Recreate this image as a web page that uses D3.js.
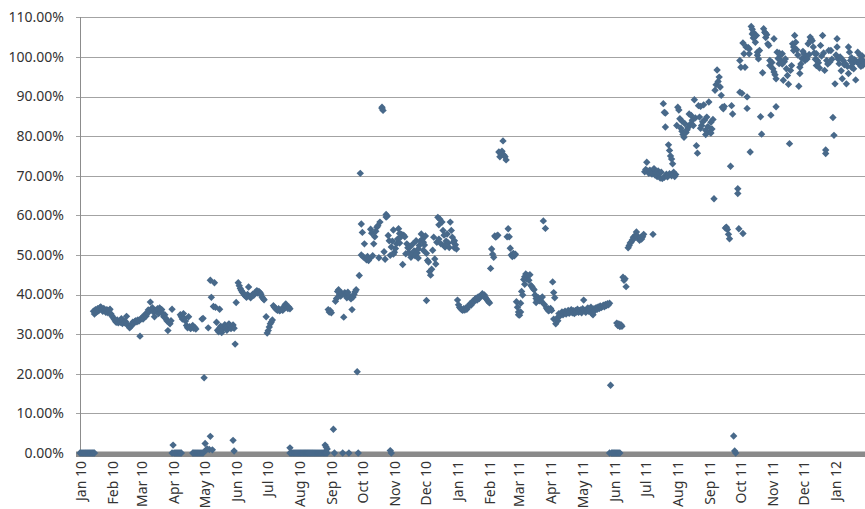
<!DOCTYPE html>
<html>
<head>
<meta charset="utf-8">
<script src="https://cdn.jsdelivr.net/npm/d3@7"></script>
<style>
  body { margin: 0; background: #fff; }
  text { font-family: "Segoe UI", "Noto Sans", sans-serif; fill: #333; }
</style>
</head>
<body>
<div id="chart"></div>
<script>
// Daily values (percent). Each run is [day offset from 1 Jan 2010, [values for consecutive days]]
const runs2010a = [
  [0, [0,0,0,0,0,0,0,0,0,0,0,0,0,0,0]],
  [13, [35.8,35.1,36.2,35.6,36.4,35.9,36.6,36.9,36.3,35.8,36.5,36.1,35.5,36.2,35.4,35.9,36.3,35.1,34.6,34.2]],
  [33, [33.8,33.4,33.0,33.6,32.9,33.3,33.0,33.9,32.7,33.4,32.9,33.2,34.5,32.4,32.0,31.6,31.9,32.5]],
  [51, [33.0,32.7,33.2,33.4,33.1,33.6,33.3,29.5,33.9,34.2,33.8,34.5,35.0,34.6,35.4,36.1]],
  [67, [35.7,38.1,36.3,36.7,35.6,34.4,36.0,35.8,36.4,35.2,36.6,35.9,36.2,35.1,34.4,34.9,34.0,33.4,30.9,33.0,32.6,33.4,36.3]],
  [89, [0,2.0,0,0,0,0,0,0,0,0]],
  [97, [34.9,34.4,33.8,35.2,34.0,33.3,32.2,31.6,34.4,31.9,31.4,31.8,32.2,31.5,31.7,31.3]],
  [109, [0,0,0,0,0,0,0,0,0,0,0]],
  [118, [33.8,34.0,19.0,2.4,0.8,1.0,31.6,0.9,43.6,39.3,0.8,37.0,43.0,36.8,33.0]],
  [126, [4.2]],
  [133, [31.0,30.6,31.5,32.0,30.4,31.2,31.8,32.4,31.5,31.0,32.0,32.6,32.2,31.4,31.9,32.3,31.5]],
  [135, [36.3]],
  [148, [3.2,0.5,27.5,38.0]],
  [153, [43.0,42.2,41.5,41.0,40.6,40.3,39.9,39.6,39.3,40.0,41.9,39.5,39.2,39.7,40.1,39.8,40.3,40.6,41.0,40.4,40.8,40.5,40.1,39.4,39.0,38.7]],
  [180, [34.4,30.3,30.9,31.8,32.6,33.1,33.6]]
];

const runs2010b = [
  [187, [37.2,36.8,36.5,36.2,36.0,36.4,35.9,36.1,36.3,36.0,36.6,37.3,37.6,37.0,36.5,36.8,36.4]],
  [203, [1.3]],
  [203, [0,0,0,0,0,0,0,0,0,0,0,0,0,0,0,0,0,0,0,0,0,0,0,0,0,0,0,0,0,0,0,0,0,0,0,0,0]],
  [237, [2.0,1.5,1.0]],
  [240, [36.2,35.6,35.9,35.4]],
  [245, [6.0,0]],
  [247, [38.3,39.0,40.8,41.2,40.0,39.6,40.4,0,34.3,40.5,39.8,39.2,40.6,0,39.5,38.9,36.2,39.4,40.1,40.7,41.2,20.5,0,44.8,70.6]],
  [272, [50.0,55.7,49.5,52.8,49.2,48.8,49.6,48.6,49.1,56.5,55.5,49.8,52.8,54.6,56.0,57.0,57.4,49.3,58.3]],
  [292, [87.3,86.5,50.8,48.9,60.2,59.8,54.9,53.6,49.9,52.0,53.5,56.3,50.7,51.6,52.8,54.0,56.6,55.4,54.5,55.2,
         47.6,55.0,54.6,50.3,52.8,51.8,50.6,52.0,49.4,50.2,52.8,51.0,49.8,53.6,50.5,51.5,52.4,53.5,55.3,54.0,
         53.2,52.5,54.8,50.4,48.6,48.2,45.8,44.9,46.4,51.2,54.5,49.0,47.7,53.2,59.5,54.0,59.0,52.8,58.3,56.2,
         55.0,52.0,53.5,55.3,53.0,51.9,58.3,56.2,54.5,53.2,51.8,52.6,51.5]],
  [272, [57.8]], [292, [87.0]], [296, [59.6]], [300, [0.6,0]], [303, [50.2]], [309, [53.0]], [327, [49.2]],
  [332, [51.2]], [335, [38.5]], [347, [57.6]], [352, [52.4]], [362, [53.6]]
];

const runs2011a = [
  [365, [38.6,37.4,36.8,36.5,36.2,36.0,36.4,36.1,36.6,36.3,36.9,37.2,37.6,37.3,38.0,38.4,38.2,38.8,39.1,38.6,
         39.4,39.0,39.6,39.8,40.2,39.6,39.9,39.3,38.9,38.5,38.2,37.9]],
  [397, [46.6,51.5,50.2,49.4,54.8,54.5,54.8,55.0,76.0,74.8,75.5,76.2,78.8,75.2,74.8,74.0,54.6,56.6,54.6,51.7,
         50.0,49.6,50.4,49.8,50.2]],
  [422, [38.2,36.8,35.6,34.8,35.6,40.8,39.9,43.8,44.5,45.2,44.0,44.8,43.6,45.0,42.3,42.0,41.5,41.2,39.9,39.0,
         38.5,39.2,38.4,38.9,38.3,39.4,58.6,37.5,56.7,36.6,36.2,36.4,36.1,36.5,36.0,43.2,33.8,39.2,32.6,34.0,
         33.4,35.2,34.6,35.0,35.6,34.9,35.4,35.8,35.1,35.5,36.0,35.3,35.7,36.2,35.4,35.9,35.2,36.0,35.6,36.3,
         35.5,35.9]],
  [424, [34.9]], [426, [37.8]], [430, [42.6]], [441, [38.0]], [453, [35.9]], [458, [40.5]],
  [484, [36.1,35.4,36.4,38.6,36.0,35.5,36.3,36.6,35.8,36.2,36.8,35.2,34.9,36.4,36.0,36.7,36.3,36.9,36.5,37.1,
         36.7,37.0,37.3,36.9,37.5,37.2,37.7,37.4,37.8]],
  [512, [0,17.1,0,0,0,0,0,0,0,0,0]],
  [519, [32.8,32.2,32.6,31.9,32.4,32.0,44.4,43.6,44.0,42.0]],
  [530, [51.8,52.4,53.0,53.3,53.8,54.5,54.2,55.0,55.8,54.8,54.2,53.7,54.4,54.0,54.6,55.2]]
];

const runs2011b = [
  [546, [71.0,71.6,73.4,71.2,70.6,71.4,71.0,70.4,55.2,71.8,70.2,70.8,69.8,71.2,70.6,69.4,70.9,69.3,88.2,69.6,
         85.8,70.4,69.7,77.8,76.4,75.0,74.2,73.0,70.9,69.8,70.3,82.7,87.3,86.6,84.4,82.0,81.2,80.4,79.7,83.1,
         80.9,81.6,82.2,85.6,83.0,85.2,84.0,82.7,89.2,84.6,77.6,75.7,87.7,84.8,87.5,82.7,83.6,87.9,84.1,81.5,
         84.8,82.4,88.6,81.0,83.5,81.8,84.2,64.2,91.6,93.0,96.7,93.8,94.9,92.4,90.3,87.3,86.9,87.5,56.8,57.0,
         56.4,55.2,54.1,72.4,87.7,85.6,4.3,0.5,0]],
  [565, [86.0]], [566, [82.3]], [570, [70.5]], [572, [70.0]], [582, [83.8]], [600, [82.0]],
  [605, [80.4]], [610, [80.8]],
  [636, [66.7,56.6,91.1,97.4,90.8,103.5,100.8,97.4,102.5,89.9,102.4,100.8,76.0,107.7,105.8,106.2,105.0,103.7,105.4,101.2,
         99.5,101.6,84.9,80.5,96.0,107.1,106.2,104.9,105.6,103.3,102.9,99.1,85.3,98.6,97.0,104.6,95.5,94.5,101.2,99.6,
         98.3,100.4,99.0,100.8,94.1,98.8,99.5,97.0,95.3,93.1,78.1,96.6,97.8,103.3,101.6,105.4,103.7,101.8,100.5,92.6,
         97.4,98.2,99.6,101.4,100.8,99.1,100.2,99.5,103.3,100.6,105.0,104.5,104.1,102.5,101.0,99.4,100.8,99.1,98.5,97.2,
         102.9,100.2,105.4,101.0,96.6,76.5,99.1,98.2,101.6,98.7,101.6,99.4,84.7,80.2,93.2,100.5,104.6,99.5,98.3,100.0,
         96.5,94.5,99.1,98.0,98.3,93.2,97.6,102.5,101.2,99.1,97.4,98.3,97.0,99.3,94.2,98.8,101.2,98.3,99.1,97.6,
         100.3,99.1,98.6]],
  [636, [65.5]], [638, [99.1]], [641, [55.4]], [645, [87.0]], [647, [102.0]], [650, [107.0]],
  [651, [104.8]], [655, [100.4]], [663, [106.0]], [667, [97.8]], [671, [96.2]], [673, [87.4]],
  [676, [101.0]], [679, [98.2]], [690, [102.5]], [696, [95.8]], [706, [104.0]], [712, [97.8]],
  [721, [75.6]], [732, [102.5]], [743, [95.8]], [746, [99.8]], [754, [100.5]], [757, [97.9]]
];

// Axis settings
const startDate = new Date(2010, 0, 1);
const endDate = new Date(2012, 0, 30);
const yTicks = [0, 0.1, 0.2, 0.3, 0.4, 0.5, 0.6, 0.7, 0.8, 0.9, 1.0, 1.1];

const width = 865, height = 509;
const plot = { left: 80, right: 865, top: 17.3, bottom: 453 };

const svg = d3.select("#chart").append("svg")
    .attr("width", width)
    .attr("height", height);

const x = d3.scaleTime().domain([startDate, endDate]).range([plot.left, plot.right]);
const y = d3.scaleLinear().domain([0, 1.1]).range([plot.bottom, plot.top]);

// flatten runs into points
const points = [];
[runs2010a, runs2010b, runs2011a, runs2011b].forEach(list => {
    list.forEach(([start, values]) => {
        values.forEach((v, i) => {
            points.push({ date: d3.timeDay.offset(startDate, start + i), value: v / 100 });
        });
    });
});

// Horizontal gridlines
svg.append("g")
    .selectAll("line")
    .data(yTicks.slice(1))
    .join("line")
    .attr("x1", plot.left - 4)
    .attr("x2", plot.right)
    .attr("y1", d => Math.round(y(d)) + 0.5)
    .attr("y2", d => Math.round(y(d)) + 0.5)
    .attr("stroke", "#a3a3a3")
    .attr("stroke-width", 1);

// Y axis line
svg.append("line")
    .attr("x1", plot.left + 0.5).attr("x2", plot.left + 0.5)
    .attr("y1", Math.round(y(1.1))).attr("y2", plot.bottom + 3)
    .attr("stroke", "#8c8c8c");

// Y labels
svg.append("g")
    .selectAll("text")
    .data(yTicks)
    .join("text")
    .attr("x", 64)
    .attr("y", d => y(d))
    .attr("dy", "0.35em")
    .attr("text-anchor", "end")
    .style("font-size", "14px")
    .text(d => d3.format(".2%")(d));

// thick x axis band at zero
svg.append("rect")
    .attr("x", plot.left - 4)
    .attr("y", y(0) - 1.5)
    .attr("width", plot.right - plot.left + 4)
    .attr("height", 5.5)
    .attr("fill", "#8a8a8a");

// X labels, rotated
const months = d3.timeMonth.range(startDate, new Date(2012, 1, 1));
svg.append("g")
    .selectAll("text")
    .data(months)
    .join("text")
    .attr("transform", d => `translate(${x(d) + 1},461) rotate(-90)`)
    .attr("dy", "0.35em")
    .attr("text-anchor", "end")
    .style("font-size", "14px")
    .text(d => d3.timeFormat("%b %y")(d));

// Diamond markers
const r = 3.7;
svg.append("g")
    .selectAll("path")
    .data(points)
    .join("path")
    .attr("transform", d => `translate(${x(d.date)},${y(d.value)})`)
    .attr("d", `M0,${-r}L${r},0L0,${r}L${-r},0Z`)
    .attr("fill", "#48698a");
</script>
</body>
</html>
